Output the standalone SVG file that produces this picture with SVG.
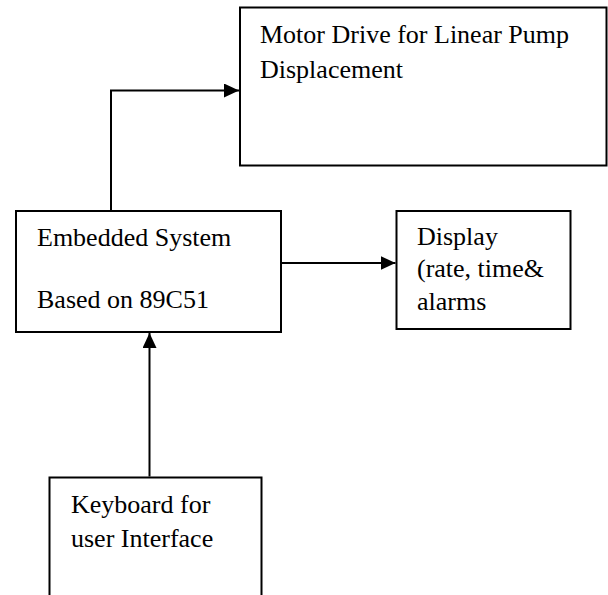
<svg xmlns="http://www.w3.org/2000/svg" width="608" height="595" viewBox="0 0 608 595">
  <style>
    .box { fill: #ffffff; stroke: #000000; stroke-width: 2; }
    .lbl { font-family: "Liberation Serif", "Times New Roman", serif; font-size: 26px; fill: #000000; }
    .conn { fill: none; stroke: #000000; stroke-width: 2; }
  </style>
  <defs>
    <marker id="arrow" markerUnits="userSpaceOnUse" markerWidth="16" markerHeight="16" refX="15" refY="7" orient="auto">
      <path d="M0,0 L15,7 L0,14 z" fill="#000000"/>
    </marker>
  </defs>
  <rect x="0" y="0" width="608" height="595" fill="#ffffff"/>
  <g id="motor">
    <rect class="box" x="240" y="7.5" width="366.5" height="158"/>
    <text class="lbl" x="260" y="43">Motor Drive for Linear Pump</text>
    <text class="lbl" x="260" y="78">Displacement</text>
  </g>
  <g id="embedded">
    <rect class="box" x="16" y="211" width="265" height="121"/>
    <text class="lbl" x="37" y="246">Embedded System</text>
    <text class="lbl" x="37" y="308">Based on 89C51</text>
  </g>
  <g id="display">
    <rect class="box" x="396.5" y="211" width="174" height="118"/>
    <text class="lbl" x="417" y="245">Display</text>
    <text class="lbl" x="417" y="277">(rate, time&amp;</text>
    <text class="lbl" x="417" y="310">alarms</text>
  </g>
  <g id="keyboard">
    <rect class="box" x="49.5" y="477.5" width="212" height="130"/>
    <text class="lbl" x="71" y="513">Keyboard for</text>
    <text class="lbl" x="71" y="547">user Interface</text>
  </g>
  <g id="connectors">
    <path class="conn" d="M111,211 L111,90.5 L239,90.5" marker-end="url(#arrow)"/>
    <path class="conn" d="M282,263 L395.5,263" marker-end="url(#arrow)"/>
    <path class="conn" d="M149.5,476.5 L149.5,333" marker-end="url(#arrow)"/>
  </g>
</svg>
